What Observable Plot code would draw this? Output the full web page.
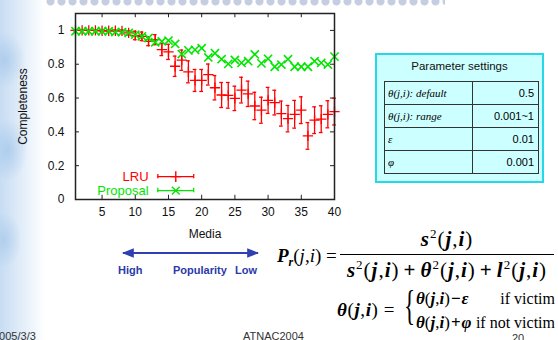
<!DOCTYPE html>
<html>
<head>
<meta charset="utf-8">
<script src="https://cdn.jsdelivr.net/npm/d3@7"></script>
<script src="https://cdn.jsdelivr.net/npm/@observablehq/plot@0.6"></script>
<style>
  html, body { margin:0; padding:0; background:#fff; }
  #slide { position:relative; width:558px; height:340px; overflow:hidden; background:#fff; font-family:"Liberation Sans", Arial, sans-serif; }
  #deco-left { position:absolute; left:0; top:0; width:60px; height:340px;
    background:
      radial-gradient(ellipse 30px 40px at 5px 60px, rgba(150,190,230,0.55), rgba(255,255,255,0) 70%),
      radial-gradient(ellipse 28px 45px at 8px 150px, rgba(140,185,230,0.5), rgba(255,255,255,0) 70%),
      radial-gradient(ellipse 25px 40px at 4px 240px, rgba(150,190,230,0.5), rgba(255,255,255,0) 70%),
      linear-gradient(to right, rgba(185,212,240,0.8), rgba(255,255,255,0) 45px); }
  #deco-top { position:absolute; left:45px; top:-5px; width:400px; height:13px;
    background: radial-gradient(circle at 50% 50%, rgba(150,165,200,0.55) 3.5px, rgba(255,255,255,0) 4.5px);
    background-size:11px 13px; }
  #chart { position:absolute; left:0; top:0; }
  #param { position:absolute; left:375px; top:53px; width:165px; height:126px; background:#ccffff; border:2px solid #29d8e8; }
  #param .title { position:absolute; left:0; width:100%; top:5px; text-align:center; font-size:11.5px; color:#111; }
  #param table { position:absolute; left:7px; top:26px; width:155px; border-collapse:collapse; border:1.5px solid #111; }
  #param td { border:1px solid #333; height:22px; padding:0 4px; }
  #param td.k { font-family:"Liberation Serif", serif; font-style:italic; font-size:11px; width:80px; padding-left:3px; }
  #param td.v { text-align:right; font-size:11px; }
  .m { position:absolute; font-family:"Liberation Serif", "Times New Roman", serif; font-size:19px; color:#000; white-space:nowrap; line-height:1; }
  .m b { font-weight:bold; font-style:italic; }
  .m sup { font-size:12px; vertical-align:7px; line-height:0; }
  .m sub { font-size:12px; vertical-align:-4px; line-height:0; }
  .m .op { padding:0 2px; font-weight:bold; }
  .frac { font-size:21px; letter-spacing:1px; }
  .frac .op { padding:0 4px; }
  .frac sup { font-size:13px; vertical-align:8px; }
  .cases { font-size:17px; }
  .cases .op { padding:0 1px; }
  .r { position:absolute; font-family:"Liberation Serif", "Times New Roman", serif; font-size:16px; color:#000; white-space:nowrap; line-height:1; text-align:right; }
  .pop { position:absolute; font-weight:bold; font-size:11px; color:#2b3aa8; white-space:nowrap; }
  .foot { position:absolute; font-size:11px; line-height:1; color:#333; white-space:nowrap; }
</style>
</head>
<body>
<div id="slide">
  <div id="deco-left"></div>
  <div id="deco-top"></div>
  <div id="chart"></div>
  <div id="param"><div class="title"></div><table></table></div>

  <svg style="position:absolute;left:0;top:0" width="558" height="340">
    <defs>
      <marker id="ah" viewBox="0 0 10 10" refX="9" refY="5" markerWidth="6" markerHeight="6" orient="auto-start-reverse">
        <path d="M0,1 L10,5 L0,9 z" fill="#3040b0"/>
      </marker>
    </defs>
    <line x1="123" y1="253" x2="258" y2="253" stroke="#3040b0" stroke-width="2" marker-start="url(#ah)" marker-end="url(#ah)"/>
  </svg>
  <div class="pop" style="left:118px;top:264px">High</div>
  <div class="pop" style="left:173px;top:264px">Popularity</div>
  <div class="pop" style="left:235px;top:264px">Low</div>

  <div class="m" style="left:277px;top:246px"><b>P</b><sub><b>r</b></sub>(<i>j</i>,<i>i</i>) =</div>
  <div class="m frac" style="left:340px;top:229px;width:214px;text-align:center;border-bottom:1px solid #000;padding-bottom:4px"><b>s</b><sup>2</sup>(<b>j</b>,<b>i</b>)</div>
  <div class="m frac" style="left:335px;top:260px;width:224px;text-align:center"><b>s</b><sup>2</sup>(<b>j</b>,<b>i</b>)<span class="op">+</span><b>θ</b><sup>2</sup>(<b>j</b>,<b>i</b>)<span class="op">+</span><b>l</b><sup>2</sup>(<b>j</b>,<b>i</b>)</div>

  <div class="m" style="left:337px;top:300px;letter-spacing:0.6px"><b>θ</b>(<b>j</b>,<b>i</b>) =</div>
  <div class="m" style="left:404px;top:284px;font-size:42px;font-weight:normal;transform:scaleX(0.55);transform-origin:left">{</div>
  <div class="m cases" style="left:416px;top:290px"><b>θ</b>(<b>j</b>,<b>i</b>)<span class="op">−</span><b>ε</b></div>
  <div class="r" style="left:470px;width:85px;top:291px">if victim</div>
  <div class="m cases" style="left:416px;top:314px"><b>θ</b>(<b>j</b>,<b>i</b>)<span class="op">+</span><b>φ</b></div>
  <div class="r" style="left:455px;width:100px;top:315px">if not victim</div>

  <div class="foot" style="left:-7px;top:331px">2005/3/3</div>
  <div class="foot" style="left:243px;top:331px">ATNAC2004</div>
  <div class="foot" style="left:512px;top:333px">20</div>
</div>
<script>
// ---------- data ----------
const media = [1,2,3,4,5,6,7,8,9,10,11,12,13,14,15,16,17,18,19,20,21,22,23,24,25,26,27,28,29,30,31,32,33,34,35,36,37,38,39,40];
const lruMean = [1.0,1.0,1.0,1.0,0.998,0.998,0.998,0.997,0.985,0.970,0.965,0.935,0.945,0.886,0.873,0.788,0.824,0.755,0.704,0.704,
                 0.739,0.661,0.618,0.616,0.598,0.647,0.625,0.553,0.528,0.586,0.573,0.508,0.478,0.504,0.528,0.376,0.469,0.475,0.504,0.520];
const lruErr  = [0.003,0.003,0.003,0.003,0.004,0.004,0.005,0.006,0.012,0.025,0.025,0.025,0.030,0.035,0.045,0.060,0.060,0.065,0.065,0.065,
                 0.062,0.072,0.074,0.076,0.072,0.076,0.075,0.081,0.077,0.077,0.073,0.074,0.078,0.082,0.079,0.079,0.079,0.079,0.080,0.079];
const proposal = [0.995,0.995,0.995,0.995,0.995,0.995,0.990,0.990,0.985,0.975,0.965,0.955,0.930,0.935,0.940,0.920,0.860,0.882,0.885,0.895,
                  0.840,0.865,0.830,0.802,0.825,0.808,0.818,0.858,0.805,0.832,0.785,0.798,0.830,0.785,0.785,0.785,0.818,0.808,0.798,0.845];
const xTicks = [5,10,15,20,25,30,35,40];
const yTicks = [0,0.2,0.4,0.6,0.8,1];
const yTickLabels = ["0","0.2","0.4","0.6","0.8","1"];
const seriesNames = ["LRU","Proposal"];
const seriesColors = ["#ff0000","#00e600"];
const paramNames = ["θ(j,i): default","θ(j,i): range","ε","φ"];
const paramValues = ["0.5","0.001~1","0.01","0.001"];

// ---------- table ----------
document.querySelector("#param .title").textContent = "Parameter settings";
const tbl = document.querySelector("#param table");
paramNames.forEach((n,i)=>{
  const tr = document.createElement("tr");
  const a = document.createElement("td"); a.className="k"; a.textContent=n;
  const b = document.createElement("td"); b.className="v"; b.textContent=paramValues[i];
  tr.appendChild(a); tr.appendChild(b); tbl.appendChild(tr);
});

// ---------- chart ----------
const lru = media.map((m,i)=>({x:m, y:lruMean[i], lo:lruMean[i]-lruErr[i], hi:lruMean[i]+lruErr[i]}));
const prop = media.map((m,i)=>({x:m, y:proposal[i]}));
const cap = 0.28;
// legend layout (in data units)
const legX1 = 13.4, legX2 = 18.8, legXm = 16.1, legText = 12.0;
const legY = [0.135, 0.053];

const chart = Plot.plot({
  width: 350, height: 250,
  marginLeft: 75, marginRight: 16, marginTop: 13, marginBottom: 51,
  style: {fontFamily: "Liberation Sans, Arial, sans-serif", fontSize: "12px", background: "transparent", color: "#111"},
  x: {domain: [1, 40]},
  y: {domain: [0, 1.1]},
  marks: [
    Plot.ruleY(yTicks, {x1: 1, x2: 1.6, stroke: "#222"}),
    Plot.ruleY(yTicks, {x1: 39.4, x2: 40, stroke: "#222"}),
    Plot.ruleX(xTicks, {y1: 0, y2: 0.025, stroke: "#222"}),
    Plot.ruleX(xTicks, {y1: 1.1, y2: 1.075, stroke: "#222"}),
    Plot.axisY(yTicks, {tickSize: 0, tickPadding: 11, tickFormat: (d,i)=>yTickLabels[i], fontSize: 12,
      label: "Completeness", labelAnchor: "center", labelOffset: 57, labelArrow: "none"}),
    Plot.axisX(xTicks, {tickSize: 0, tickPadding: 8, fontSize: 12,
      label: "Media", labelAnchor: "center", labelOffset: 38, labelArrow: "none"}),
    Plot.ruleX(lru, {x: "x", y1: "lo", y2: "hi", stroke: seriesColors[0], strokeWidth: 1.3}),
    Plot.ruleY(lru, {y: "hi", x1: d=>d.x-cap, x2: d=>d.x+cap, stroke: seriesColors[0], strokeWidth: 1.3}),
    Plot.ruleY(lru, {y: "lo", x1: d=>d.x-cap, x2: d=>d.x+cap, stroke: seriesColors[0], strokeWidth: 1.3}),
    Plot.dot(lru, {x: "x", y: "y", symbol: "plus", r: 3.4, stroke: seriesColors[0], strokeWidth: 1.3}),
    Plot.dot(prop, {x: "x", y: "y", symbol: "times", r: 3.8, stroke: seriesColors[1], strokeWidth: 1.6}),
    Plot.text(seriesNames, {x: legText, y: (d,i)=>legY[i], text: d=>d, textAnchor: "end", fill: (d,i)=>seriesColors[i], fontSize: 13}),
    Plot.ruleY(seriesNames, {y: (d,i)=>legY[i], x1: legX1, x2: legX2, stroke: (d,i)=>seriesColors[i], strokeWidth: 1.3}),
    Plot.ruleX(seriesNames, {x: legX1, y1: (d,i)=>legY[i]-0.013, y2: (d,i)=>legY[i]+0.013, stroke: (d,i)=>seriesColors[i], strokeWidth: 1.3}),
    Plot.ruleX(seriesNames, {x: legX2, y1: (d,i)=>legY[i]-0.013, y2: (d,i)=>legY[i]+0.013, stroke: (d,i)=>seriesColors[i], strokeWidth: 1.3}),
    Plot.dot(seriesNames, {x: legXm, y: (d,i)=>legY[i], symbol: (d,i)=> i===0 ? "plus" : "times", r: 3.6, stroke: (d,i)=>seriesColors[i], strokeWidth: 1.4}),
    Plot.frame({stroke: "#222", strokeWidth: 1.5})
  ]
});
document.getElementById("chart").appendChild(chart);
</script>
</body>
</html>
